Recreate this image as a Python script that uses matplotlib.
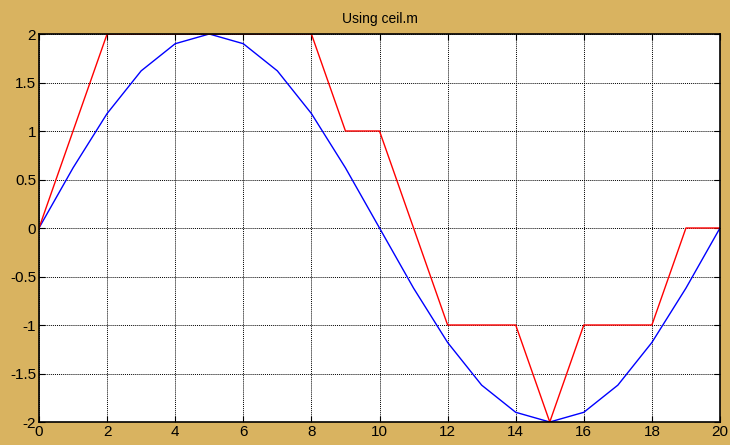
import matplotlib
matplotlib.use('Agg')
import matplotlib.pyplot as plt

# sample index and signal values
n = list(range(21))
signal = [0, 0.62, 1.18, 1.62, 1.90, 2.00, 1.90, 1.62, 1.18, 0.62, 0,
          -0.62, -1.18, -1.62, -1.90, -2.00, -1.90, -1.62, -1.18, -0.62, 0]
rounded = [0, 1, 2, 2, 2, 2, 2, 2, 2, 1, 1,
           0, -1, -1, -1, -2, -1, -1, -1, 0, 0]

xticks = list(range(0, 21, 2))
yticks = [-2, -1.5, -1, -0.5, 0, 0.5, 1, 1.5, 2]
yticklabels = ['-2', '-1.5', '-1', '-0.5', '0', '0.5', '1', '1.5', '2']

plt.rcParams['font.family'] = ['Liberation Sans', 'DejaVu Sans']

fig = plt.figure(figsize=(7.3, 4.45), dpi=100, facecolor='#d9b360')
ax = fig.add_axes([39 / 730, 1 - 422 / 445, 681 / 730, 388 / 445])
ax.set_facecolor('white')

ax.plot(n, signal, color='blue', linewidth=1)
ax.plot(n, rounded, color='red', linewidth=1)

ax.set_xlim(0, 20)
ax.set_ylim(-2, 2)
ax.set_xticks(xticks)
ax.set_yticks(yticks)
ax.set_yticklabels(yticklabels)
ax.tick_params(direction='in', length=4, width=0.8, labelsize=11, pad=2,
               top=True, right=True)
ax.grid(True, color='black', linestyle=(0, (1, 1)), linewidth=0.7)
for s in ax.spines.values():
    s.set_linewidth(1.2)
ax.set_title('Using ceil.m', fontsize=10, pad=8)

fig.savefig('out.png', dpi=100, facecolor=fig.get_facecolor())
